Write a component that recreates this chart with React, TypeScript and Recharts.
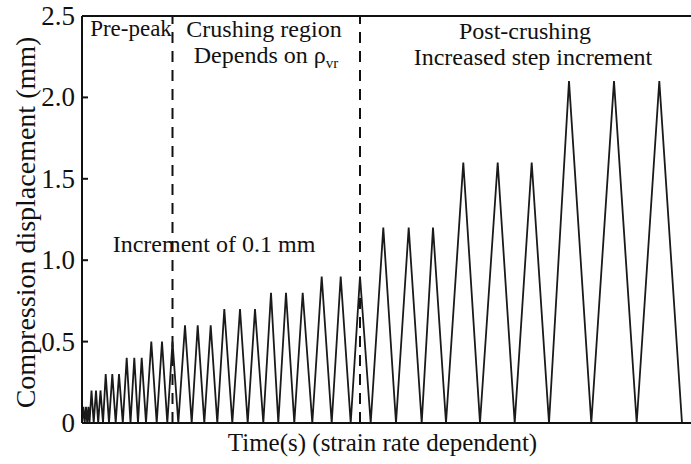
import React from 'react';
import { Label, Line, LineChart, ReferenceDot, ReferenceLine, XAxis, YAxis } from 'recharts';

// displacement step amplitudes (mm), three cycles each
const amplitudes = [0.1, 0.2, 0.3, 0.4, 0.5, 0.6, 0.7, 0.8, 0.9, 1.2, 1.6, 2.1];
const cyclesPerStep = 3;

// time of each peak and each valley (arbitrary time units)
const peakTimes = [
  1.4, 4, 6.4, 9.5, 14, 18.5, 23.7, 30.3, 37, 44.7, 52.3, 59.7,
  69.3, 80, 90.5, 103, 115.7, 128.7, 142.3, 158, 173, 189, 204, 220.7,
  239.7, 258.7, 278, 301.3, 326.7, 351, 381.3, 415.7, 449.7, 487, 532, 577.3,
];
const valleyTimes = [
  0, 2.7, 5.2, 7.5, 11.7, 16.2, 21, 27, 33.7, 40.8, 48.5, 56, 64,
  74.7, 85.3, 96.3, 109.7, 122.3, 135.3, 150.3, 165.7, 181.3, 196.3, 212.3,
  230.3, 249.7, 268.7, 288.7, 314, 339.7, 364, 398, 432.7, 467, 509.3, 554.7, 600,
];

const phaseBoundaries = [90.5, 278];
const yTicks = [0, 0.5, 1, 1.5, 2, 2.5];

const data: { t: number; d: number }[] = [];
peakTimes.forEach((pt, i) => {
  data.push({ t: valleyTimes[i], d: 0 });
  data.push({ t: pt, d: amplitudes[Math.floor(i / cyclesPerStep)] });
});
data.push({ t: valleyTimes[valleyTimes.length - 1], d: 0 });

const FONT = "'Liberation Serif', 'DejaVu Serif', serif";
const INK = '#111';
const txt = (size: number): React.CSSProperties => ({ fontFamily: FONT, fontSize: size, fill: INK });

function YTick(props: any) {
  const { x, y, payload } = props;
  const v = payload.value;
  return (
    <g>
      <text x={x} y={y} dy={9} textAnchor="end" style={txt(27)}>
        {v === 0 ? '0' : v.toFixed(1)}
      </text>
      {v > 0 && v < 2.5 && <line x1={x + 7} x2={x + 13} y1={y} y2={y} stroke={INK} strokeWidth={2} />}
    </g>
  );
}

function note(text: React.ReactNode, size = 24) {
  return (props: any) => {
    const vb = props.viewBox || {};
    const cx = (vb.x || 0) + (vb.width || 0) / 2;
    const cy = (vb.y || 0) + (vb.height || 0) / 2;
    return (
      <text x={cx} y={cy} textAnchor="middle" style={txt(size)}>
        {text}
      </text>
    );
  };
}

export default function App() {
  return (
    <div style={{ position: 'absolute', left: 0, top: 0, background: '#fff' }}>
      <LineChart width={691} height={464} data={data} margin={{ top: 16, right: 0, left: 0, bottom: 0 }}>
        <XAxis
          dataKey="t"
          type="number"
          domain={[0, 609]}
          tick={false}
          tickLine={false}
          height={41}
          axisLine={{ stroke: INK, strokeWidth: 2 }}
        >
          <Label
            content={(p: any) => (
              <text x={p.viewBox.x + p.viewBox.width / 2 - 4} y={p.viewBox.y + 28} textAnchor="middle" style={txt(25)}>
                Time(s) (strain rate dependent)
              </text>
            )}
          />
        </XAxis>
        <YAxis
          type="number"
          domain={[0, 2.5]}
          ticks={yTicks}
          width={82}
          tickSize={0}
          tickMargin={7}
          tickLine={false}
          tick={<YTick />}
          axisLine={{ stroke: INK, strokeWidth: 2 }}
        >
          <Label
            content={(p: any) => {
              const cy = p.viewBox.y + p.viewBox.height / 2 + 3;
              return (
                <text x={0} y={0} transform={`translate(35, ${cy}) rotate(-90)`} textAnchor="middle" style={txt(28)}>
                  Compression displacement (mm)
                </text>
              );
            }}
          />
        </YAxis>
        <ReferenceLine y={2.5} stroke={INK} strokeWidth={2} />
        {phaseBoundaries.map((b) => (
          <ReferenceLine key={b} x={b} stroke={INK} strokeWidth={2} strokeDasharray="11 8" />
        ))}
        <Line dataKey="d" type="linear" dot={false} stroke="#1a1a1a" strokeWidth={1.8} isAnimationActive={false} />
        <ReferenceDot x={49} y={2.377} r={0} stroke="none" fill="none" label={note('Pre-peak', 23)} />
        <ReferenceDot x={182} y={2.37} r={0} stroke="none" fill="none" label={note('Crushing region')} />
        <ReferenceDot
          x={184}
          y={2.21}
          r={0}
          stroke="none"
          fill="none"
          label={note(
            <>
              <tspan>Depends on ρ</tspan>
              <tspan fontSize={15} dy={5}>vr</tspan>
            </>
          )}
        />
        <ReferenceDot x={443} y={2.356} r={0} stroke="none" fill="none" label={note('Post-crushing')} />
        <ReferenceDot x={451} y={2.2} r={0} stroke="none" fill="none" label={note('Increased step increment')} />
        <ReferenceDot x={132} y={1.053} r={0} stroke="none" fill="none" label={note('Increment of 0.1 mm')} />
      </LineChart>
    </div>
  );
}
